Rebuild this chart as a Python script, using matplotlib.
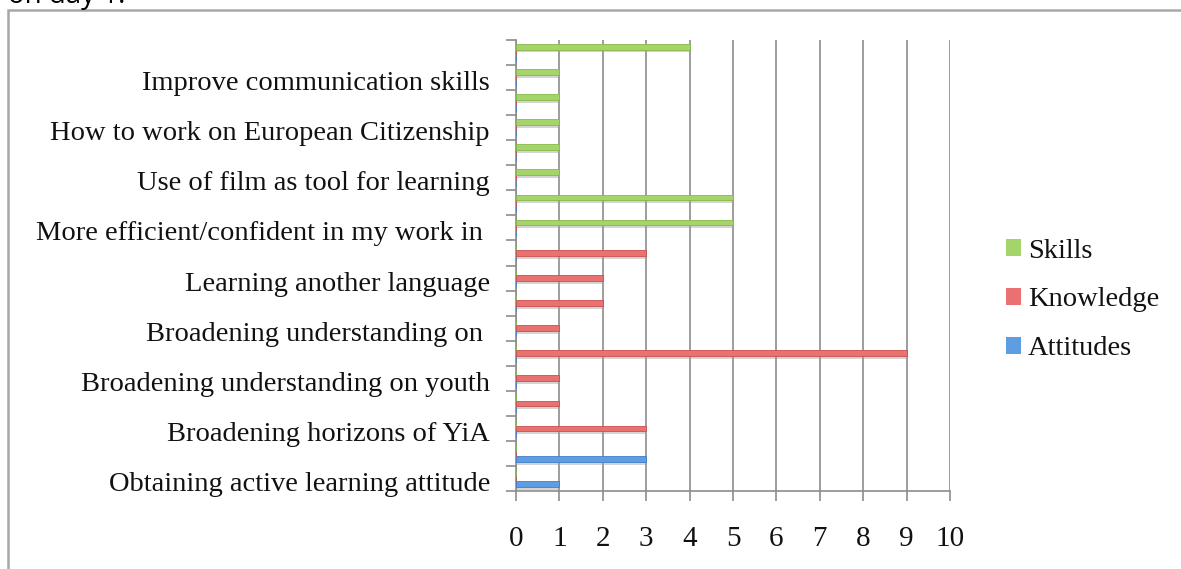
import numpy as np
import matplotlib.pyplot as plt
from matplotlib.patches import Patch, Rectangle

# categories from bottom (1) to top (18); only every other one gets a label
labels = ["Obtaining active learning attitude", "",
          "Broadening horizons of YiA", "",
          "Broadening understanding on youth", "",
          "Broadening understanding on ", "",
          "Learning another language", "",
          "More efficient/confident in my work in ", "",
          "Use of film as tool for learning", "",
          "How to work on European Citizenship", "",
          "Improve communication skills", ""]

attitudes = [1, 3, 0, 0, 0, 0, 0, 0, 0, 0, 0, 0, 0, 0, 0, 0, 0, 0]
knowledge = [0, 0, 3, 1, 1, 9, 1, 2, 2, 3, 0, 0, 0, 0, 0, 0, 0, 0]
skills    = [0, 0, 0, 0, 0, 0, 0, 0, 0, 0, 5, 5, 1, 1, 1, 1, 1, 4]

series = [("Attitudes", attitudes, "#5e9de3", "#3f7fc8"),
          ("Knowledge", knowledge, "#e9716f", "#c9504e"),
          ("Skills", skills, "#a4d46a", "#86b84a")]

font = ['Liberation Serif', 'DejaVu Serif']
plt.rcParams['font.family'] = font

W, H = 1181, 569
fig = plt.figure(figsize=(W / 100, H / 100), dpi=100)
ax = fig.add_axes([516 / W, 1 - 491 / H, 434 / W, 451 / H])

pos = np.arange(1, len(labels) + 1)
bh = 1 / 4.5
offsets = [-bh, 0, bh]

for (name, vals, col, edge), off in zip(series, offsets):
    vals = np.array(vals)
    # soft shadow under each bar
    ax.barh(pos + off - 0.11, vals, height=bh, color='#a0a0a0',
            alpha=0.45, linewidth=0, zorder=2)
    ax.barh(pos + off, vals, height=bh, color=col, edgecolor=edge,
            linewidth=0.6, zorder=3, label=name)

ax.set_xlim(0, 10)
ax.set_ylim(0.5, len(labels) + 0.5)

# x axis
ax.set_xticks(range(0, 11))
ax.tick_params(axis='x', length=7, width=1.2, color='#8c8c8c',
               labelsize=21, pad=18, labelcolor='#111111')
ax.xaxis.grid(True, color='#8c8c8c', linewidth=1.2)
ax.set_axisbelow(True)

# y axis: tick marks at category boundaries, labels written next to the centres
ax.set_yticks(np.arange(0.5, len(labels) + 1, 1))
ax.set_yticklabels([])
ax.tick_params(axis='y', which='major', length=7, width=1.2, color='#8c8c8c')
ytrans = ax.get_yaxis_transform()
for p, lab in zip(pos, labels):
    if lab:
        ax.text(-26 / 434, p - 0.12, lab, transform=ytrans, ha='right',
                va='center_baseline', fontsize=20.5, color='#111111')

for s in ['top', 'right']:
    ax.spines[s].set_visible(False)
for s in ['left', 'bottom']:
    ax.spines[s].set_color('#8c8c8c')
    ax.spines[s].set_linewidth(1.2)

handles = [Patch(facecolor=c, edgecolor='none') for _, _, c, _ in series][::-1]
names = [n for n, _, _, _ in series][::-1]
fig.legend(handles, names, loc='center left', bbox_to_anchor=(1006 / W, 1 - 300 / H),
           frameon=False, fontsize=20.5, handlelength=0.52, handleheight=0.52,
           handletextpad=0.25, labelspacing=0.84, borderpad=0, borderaxespad=0,
           labelcolor='#111111')

# chart area border (cut off at right and bottom)
fig.add_artist(Rectangle((8 / W, -0.1), 2, 1 - 10 / H + 0.1, transform=fig.transFigure,
                         fill=False, edgecolor='#a8a8a8', linewidth=1.8))

# tail of the document text above the chart
fig.text(8 / W, 1 - 3 / H, "on day 1:", fontsize=20, family='Open Sans',
         va='baseline', ha='left', color='black')

fig.savefig('out.png', dpi=100)
